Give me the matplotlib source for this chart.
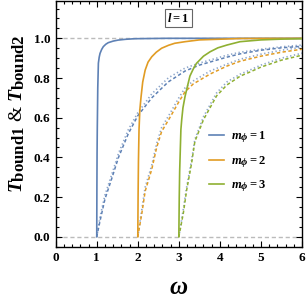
import numpy as np
import matplotlib
matplotlib.use("Agg")
import matplotlib.pyplot as plt
import matplotlib._mathtext as mtext
from matplotlib.ticker import MultipleLocator

plt.rcParams['font.family'] = ['Liberation Serif', 'DejaVu Serif']
plt.rcParams['font.weight'] = 'bold'
plt.rcParams['mathtext.fontset'] = 'custom'
plt.rcParams['mathtext.rm'] = 'Liberation Serif:bold'
plt.rcParams['mathtext.it'] = 'Liberation Serif:italic:bold'
plt.rcParams['mathtext.bf'] = 'Liberation Serif:bold'
# bigger subscripts, closer to the original
mtext.SHRINK_FACTOR = 0.86

# mass values and colours
masses = [1, 2, 3]
colors = ['#5E81B5', '#E19C24', '#8FB032']
dot_color = '#5E81B5'

# solid curves
w_solid_1 = [1.0, 1.004, 1.008, 1.013, 1.025, 1.04, 1.06, 1.08, 1.12, 1.16, 1.22, 1.28, 1.4, 1.52, 1.7, 1.93, 2.7, 6.0]
t_solid_1 = [0.0, 0.25, 0.42, 0.54, 0.75, 0.875, 0.905, 0.924, 0.944, 0.958, 0.97, 0.978, 0.986, 0.991, 0.995, 0.998, 1.0, 1.0]
w_solid_2 = [2.0, 2.008, 2.016, 2.03, 2.05, 2.08, 2.12, 2.18, 2.25, 2.34, 2.45, 2.58, 2.75, 2.9, 3.15, 3.5, 4.5, 6.0]
t_solid_2 = [0.0, 0.22, 0.38, 0.54, 0.64, 0.706, 0.78, 0.84, 0.88, 0.907, 0.93, 0.95, 0.965, 0.975, 0.983, 0.992, 0.999, 1.0]
w_solid_3 = [3.0, 3.01, 3.02, 3.05, 3.07, 3.1, 3.15, 3.2, 3.27, 3.35, 3.43, 3.6, 3.76, 3.95, 4.17, 4.49, 5.0, 5.5, 6.0]
t_solid_3 = [0.0, 0.2, 0.33, 0.54, 0.59, 0.65, 0.706, 0.75, 0.81, 0.845, 0.874, 0.91, 0.932, 0.952, 0.966, 0.983, 0.992, 0.996, 0.998]

# dashed curves
w_dash_1 = [1.0, 1.08, 1.2, 1.36, 1.53, 1.77, 2.0, 2.34, 2.74, 3.15, 3.5, 4.17, 4.5, 5.0, 5.5, 6.0]
t_dash_1 = [0.0, 0.08, 0.19, 0.29, 0.40, 0.52, 0.61, 0.70, 0.78, 0.835, 0.865, 0.905, 0.922, 0.94, 0.952, 0.96]
w_dash_2 = [2.0, 2.1, 2.18, 2.34, 2.46, 2.58, 2.78, 3.0, 3.15, 3.35, 3.76, 4.17, 4.5, 5.0, 5.5, 6.0]
t_dash_2 = [0.0, 0.12, 0.23, 0.34, 0.45, 0.53, 0.60, 0.68, 0.73, 0.77, 0.82, 0.86, 0.885, 0.91, 0.93, 0.945]
w_dash_3 = [3.0, 3.11, 3.19, 3.31, 3.39, 3.6, 3.92, 4.17, 4.5, 4.73, 5.0, 5.5, 6.0]
t_dash_3 = [0.0, 0.12, 0.235, 0.37, 0.48, 0.59, 0.71, 0.765, 0.81, 0.83, 0.855, 0.89, 0.915]

# dotted curves
w_dot_1 = [1.0, 1.08, 1.2, 1.36, 1.53, 1.77, 2.0, 2.34, 2.74, 3.15, 3.5, 4.17, 4.5, 5.0, 5.5, 6.0]
t_dot_1 = [0.0, 0.10, 0.21, 0.31, 0.42, 0.54, 0.625, 0.72, 0.80, 0.85, 0.875, 0.915, 0.93, 0.945, 0.957, 0.966]
w_dot_2 = [2.0, 2.1, 2.18, 2.34, 2.46, 2.58, 2.78, 3.0, 3.15, 3.35, 3.76, 4.17, 4.5, 5.0, 5.5, 6.0]
t_dot_2 = [0.0, 0.14, 0.25, 0.36, 0.47, 0.55, 0.62, 0.70, 0.75, 0.785, 0.835, 0.87, 0.895, 0.92, 0.94, 0.955]
w_dot_3 = [3.0, 3.11, 3.19, 3.31, 3.39, 3.6, 3.92, 4.17, 4.5, 4.73, 5.0, 5.5, 6.0]
t_dot_3 = [0.0, 0.14, 0.25, 0.385, 0.49, 0.605, 0.725, 0.78, 0.82, 0.84, 0.865, 0.9, 0.925]

solid = [(w_solid_1, t_solid_1), (w_solid_2, t_solid_2), (w_solid_3, t_solid_3)]
dashed = [(w_dash_1, t_dash_1), (w_dash_2, t_dash_2), (w_dash_3, t_dash_3)]
dotted = [(w_dot_1, t_dot_1), (w_dot_2, t_dot_2), (w_dot_3, t_dot_3)]

fig = plt.figure(figsize=(3.07, 3.02), dpi=100)
ax = fig.add_axes([0.1814, 0.1831, 0.8023, 0.8149])

# reference lines
ax.axhline(1.0, color='#BBBBBB', lw=1.0, ls=(0, (3, 2)), zorder=1)
ax.axhline(0.0, color='#BBBBBB', lw=1.0, ls=(0, (3, 2)), zorder=1)

for (wd, td), c in zip(dotted, colors):
    ax.plot(wd, td, color=dot_color, alpha=0.7, lw=1.2, ls=(0, (0.8, 1.5)), zorder=2)
for (wd, td), c in zip(dashed, colors):
    ax.plot(wd, td, color=c, lw=1.1, ls=(0, (2.2, 1.6)), zorder=3)
for (ws, ts), c, m in zip(solid, colors, masses):
    ax.plot(ws, ts, color=c, lw=1.2, zorder=4, label=r'$m_\phi=%d$' % m)

ax.set_xlim(0, 6)
ax.set_ylim(-0.05, 1.19)
ax.xaxis.set_major_locator(MultipleLocator(1))
ax.xaxis.set_minor_locator(MultipleLocator(0.2))
ax.yaxis.set_major_locator(MultipleLocator(0.2))
ax.yaxis.set_minor_locator(MultipleLocator(0.05))
ax.set_yticks([0.0, 0.2, 0.4, 0.6, 0.8, 1.0])
ax.set_yticklabels(['0.0', '0.2', '0.4', '0.6', '0.8', '1.0'])
ax.tick_params(which='both', direction='in', top=True, right=True, width=0.8)
ax.tick_params(which='major', length=4, labelsize=9.5, pad=4)
ax.tick_params(which='minor', length=2)
for lab in ax.get_xticklabels() + ax.get_yticklabels():
    lab.set_fontweight('bold')
for sp in ax.spines.values():
    sp.set_linewidth(1.0)

ax.set_xlabel(r'$\omega$', fontsize=18, labelpad=9)
ax.set_ylabel(r'$T_{\mathrm{bound1}}$ & $T_{\mathrm{bound2}}$', fontsize=14)
ax.yaxis.set_label_coords(-0.115, 0.54)

ax.text(0.498, 0.929, r'$l=1$', transform=ax.transAxes, ha='center', va='center',
        fontsize=9, bbox=dict(boxstyle='square,pad=0.2', fc='white', ec='#666666', lw=0.8))

ax.legend(loc='upper left', bbox_to_anchor=(0.575, 0.52), frameon=False, fontsize=9,
          handlelength=1.2, labelspacing=0.75, handletextpad=0.6)

fig.savefig('out.png', dpi=100)
